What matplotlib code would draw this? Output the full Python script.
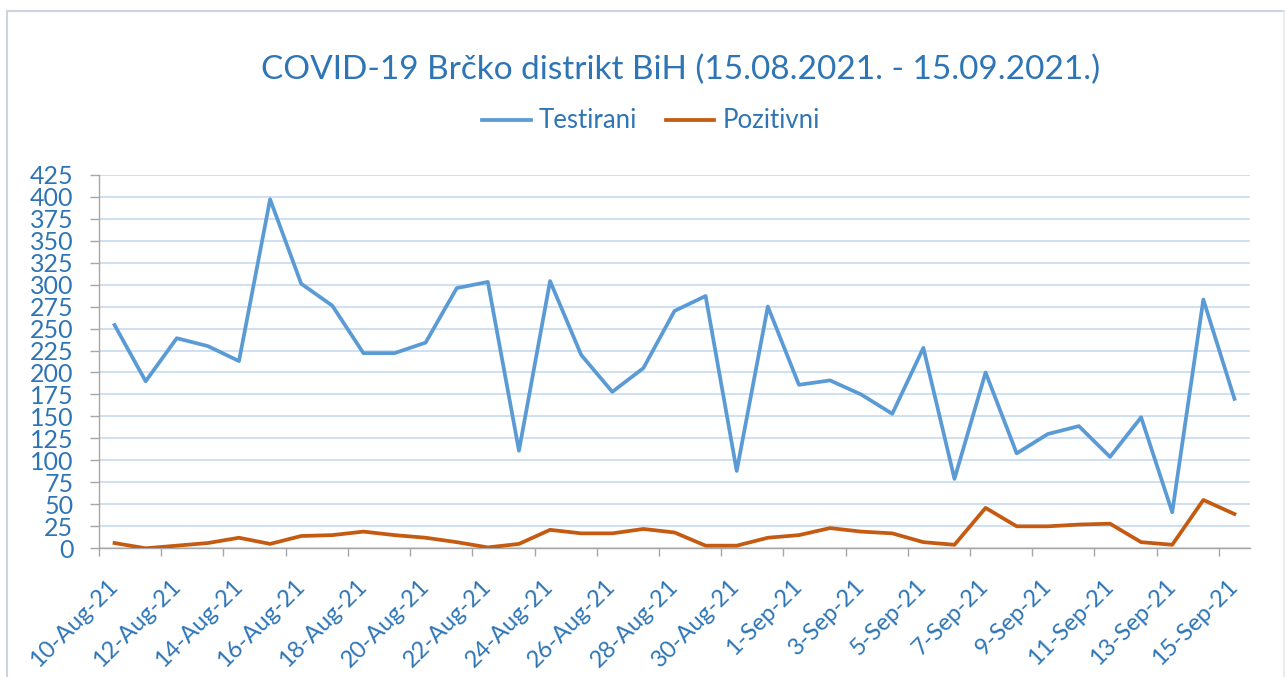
import matplotlib
matplotlib.use("Agg")
import matplotlib.pyplot as plt
from matplotlib.lines import Line2D
import numpy as np

plt.rcParams['font.family'] = ['Lato', 'DejaVu Sans']

dates = ["10-Aug-21", "11-Aug-21", "12-Aug-21", "13-Aug-21", "14-Aug-21", "15-Aug-21",
         "16-Aug-21", "17-Aug-21", "18-Aug-21", "19-Aug-21", "20-Aug-21", "21-Aug-21",
         "22-Aug-21", "23-Aug-21", "24-Aug-21", "25-Aug-21", "26-Aug-21", "27-Aug-21",
         "28-Aug-21", "29-Aug-21", "30-Aug-21", "31-Aug-21", "1-Sep-21", "2-Sep-21",
         "3-Sep-21", "4-Sep-21", "5-Sep-21", "6-Sep-21", "7-Sep-21", "8-Sep-21",
         "9-Sep-21", "10-Sep-21", "11-Sep-21", "12-Sep-21", "13-Sep-21", "14-Sep-21",
         "15-Sep-21"]
testirani = [254, 190, 239, 230, 213, 397, 301, 276, 222, 222, 234, 296, 303, 111,
             304, 220, 178, 205, 270, 287, 88, 275, 186, 191, 175, 153, 228, 79,
             200, 108, 130, 139, 104, 149, 41, 283, 170]
pozitivni = [6, 0, 3, 6, 12, 5, 14, 15, 19, 15, 12, 7, 1, 5, 21, 17, 17, 22, 18,
             3, 3, 12, 15, 23, 19, 17, 7, 4, 46, 25, 25, 27, 28, 7, 4, 55, 39]
series_names = ["Testirani", "Pozitivni"]
title = "COVID-19 Brčko distrikt BiH (15.08.2021. - 15.09.2021.)"
yticks = list(range(0, 426, 25))

BLUE = '#5B9BD5'
ORANGE = '#C55A11'
TXT = '#2E75B6'
GRID = '#C9DDF1'
AX = '#A6A6A6'

W, H = 1285, 677
fig = plt.figure(figsize=(W / 100, H / 100), dpi=100)
fig.patch.set_facecolor('white')

x0, x1, ytop, ybot = 99, 1250, 174.7, 548.3
ax = fig.add_axes([x0 / W, 1 - ybot / H, (x1 - x0) / W, (ybot - ytop) / H])

x = np.arange(len(dates))
ax.plot(x, testirani, color=BLUE, lw=2.7, solid_joinstyle='round', label=series_names[0], zorder=3)
ax.plot(x, pozitivni, color=ORANGE, lw=2.7, solid_joinstyle='round', label=series_names[1], zorder=3)

ax.set_xlim(-0.5, len(dates) - 0.5)
ax.set_ylim(0, 425)
ax.set_yticks(yticks)
ax.yaxis.grid(True, color=GRID, lw=1.3)
ax.set_axisbelow(True)

for s in ['top', 'right']:
    ax.spines[s].set_visible(False)
for s in ['left', 'bottom']:
    ax.spines[s].set_color(AX)
    ax.spines[s].set_linewidth(1.0)

ax.tick_params(axis='y', direction='out', length=6.5, width=1, color=AX,
               labelsize=18, labelcolor=TXT, pad=12)

major = x[::2]
ax.set_xticks(major)
ax.set_xticklabels([dates[i] for i in major], rotation=45, ha='right', va='center',
                   rotation_mode='anchor')
ax.tick_params(axis='x', which='major', length=0, labelsize=17, labelcolor=TXT, pad=25)
ax.set_xticks(major - 0.5, minor=True)
ax.tick_params(axis='x', which='minor', direction='out', length=5.5, width=1, color=AX)

fig.text(681 / W, 1 - 70 / H, title, ha='center', va='center', fontsize=24, color=TXT)

fig.legend(loc='center', bbox_to_anchor=(651 / W, 1 - 121 / H), ncol=2, frameon=False,
           fontsize=18.5, labelcolor=TXT, handlelength=1.9, handletextpad=0.3,
           columnspacing=1.1)

fc = '#CDD3E0'
fig.add_artist(Line2D([7 / W, 7 / W], [0, 1 - 11 / H], color=fc, lw=1.5, transform=fig.transFigure))
fig.add_artist(Line2D([7 / W, 1284 / W], [1 - 11 / H, 1 - 11 / H], color=fc, lw=1.5, transform=fig.transFigure))
fig.add_artist(Line2D([1284 / W, 1284 / W], [0, 1 - 11 / H], color='#E4E7EE', lw=1.2, transform=fig.transFigure))

fig.savefig('out.png', dpi=100, facecolor='white')
